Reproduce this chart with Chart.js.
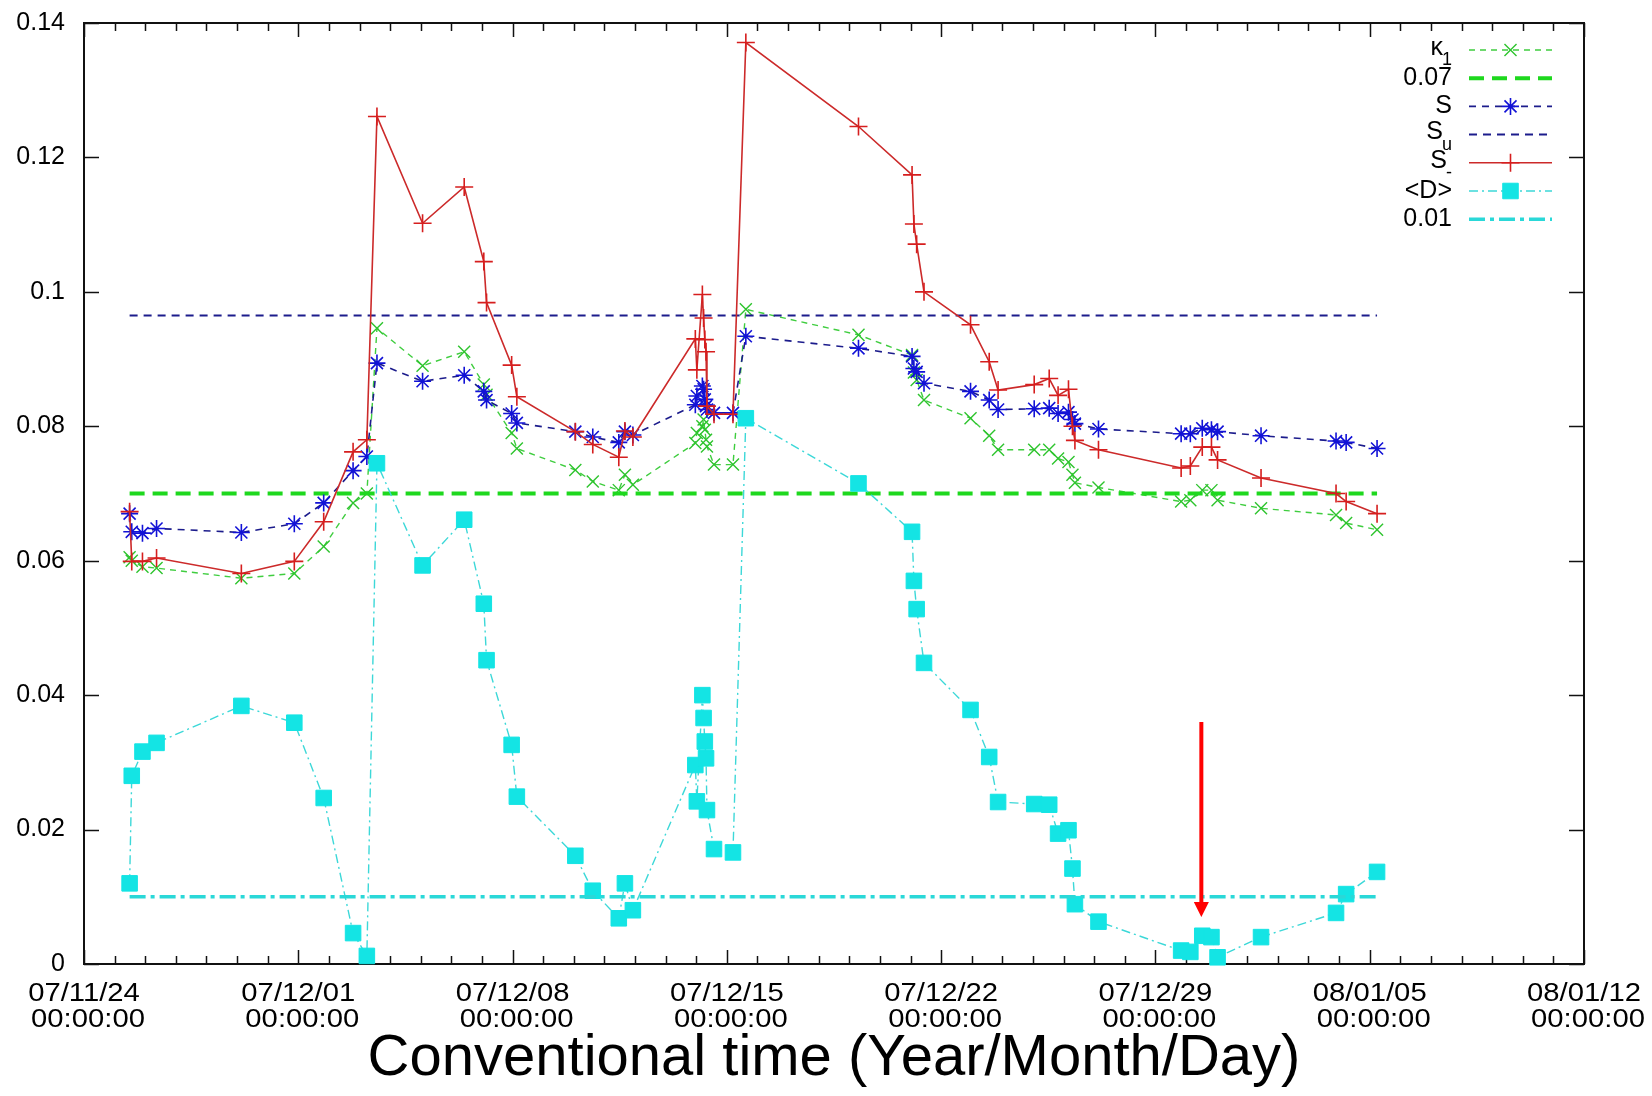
<!DOCTYPE html>
<html>
<head>
<meta charset="utf-8">
<script src="https://cdn.jsdelivr.net/npm/chart.js@4/dist/chart.umd.min.js"></script>
<style>
  html, body { margin: 0; padding: 0; background: #fff; }
  canvas { display: block; }
</style>
</head>
<body>
<canvas id="c" width="1652" height="1096"></canvas>
<script>
// Sample times, in days elapsed since 07/11/24 00:00:00
const sampleDays = [
  1.49, 1.56, 1.91, 2.37, 5.14, 6.87, 7.83, 8.79, 9.24, 9.57,
  11.06, 12.42, 13.06, 13.15, 13.97, 14.14, 16.05, 16.62, 17.47, 17.67,
  17.93, 19.97, 20.02, 20.20, 20.24, 20.28, 20.32, 20.35, 20.58, 21.20,
  21.62, 25.30, 27.05, 27.11, 27.20, 27.44, 28.96, 29.57, 29.86, 31.04,
  31.53, 31.82, 32.16, 32.29, 32.37, 33.14, 35.84, 36.14, 36.53, 36.83,
  37.03, 38.45, 40.90, 41.23, 42.24
];

// κ1
const kappa1 = [
  0.0605, 0.0600, 0.0591, 0.0589, 0.0574, 0.0581, 0.0621, 0.0686, 0.0700, 0.0946,
  0.0890, 0.0911, 0.0862, 0.0847, 0.0790, 0.0767, 0.0735, 0.0718, 0.0705, 0.0728,
  0.0713, 0.0775, 0.0790, 0.0800, 0.0810, 0.0795, 0.0780, 0.0770, 0.0743, 0.0743,
  0.0974, 0.0936, 0.0906, 0.0880, 0.0869, 0.0839, 0.0812, 0.0786, 0.0765, 0.0765,
  0.0765, 0.0752, 0.0747, 0.0728, 0.0716, 0.0709, 0.0688, 0.0690, 0.0705, 0.0705,
  0.0690, 0.0678, 0.0668, 0.0656, 0.0646
];

// S
const sValues = [
  0.0670, 0.0643, 0.0641, 0.0648, 0.0642, 0.0655, 0.0686, 0.0734, 0.0755, 0.0894,
  0.0867, 0.0876, 0.0852, 0.0839, 0.0819, 0.0805, 0.0792, 0.0784, 0.0776, 0.0792,
  0.0787, 0.0832, 0.0845, 0.0860, 0.0855, 0.0840, 0.0830, 0.0825, 0.0820, 0.0820,
  0.0934, 0.0916, 0.0904, 0.0886, 0.0881, 0.0864, 0.0852, 0.0839, 0.0825, 0.0826,
  0.0827, 0.0819, 0.0821, 0.0810, 0.0804, 0.0796, 0.0789, 0.0789, 0.0797, 0.0795,
  0.0792, 0.0786, 0.0778, 0.0776, 0.0767
];

// S-
const sMinus = [
  0.0673, 0.0599, 0.0599, 0.0604, 0.0581, 0.0599, 0.0658, 0.0762, 0.0780, 0.1261,
  0.1102, 0.1156, 0.1045, 0.0984, 0.0891, 0.0844, 0.0792, 0.0773, 0.0754, 0.0793,
  0.0784, 0.0930, 0.0884, 0.0996, 0.0961, 0.0929, 0.0911, 0.0830, 0.0818, 0.0818,
  0.1371, 0.1246, 0.1174, 0.1101, 0.1071, 0.1000, 0.0951, 0.0896, 0.0854, 0.0862,
  0.0871, 0.0846, 0.0855, 0.0800, 0.0779, 0.0765, 0.0738, 0.0741, 0.0769, 0.0769,
  0.0750, 0.0723, 0.0700, 0.0688, 0.0670
];

// <D>
const meanD = [
  0.0120, 0.0280, 0.0316, 0.0329, 0.0384, 0.0359, 0.0247, 0.0046, 0.0012, 0.0745,
  0.0593, 0.0661, 0.0536, 0.0452, 0.0326, 0.0249, 0.0161, 0.0109, 0.0068, 0.0120,
  0.0080, 0.0296, 0.0242, 0.0400, 0.0366, 0.0331, 0.0306, 0.0229, 0.0171, 0.0166,
  0.0812, 0.0715, 0.0643, 0.0570, 0.0528, 0.0448, 0.0378, 0.0308, 0.0241, 0.0238,
  0.0237, 0.0194, 0.0199, 0.0142, 0.0089, 0.0063, 0.0020, 0.0018, 0.0042, 0.0040,
  0.0010, 0.0040, 0.0076, 0.0104, 0.0137
];

// Reference levels
const kappaLevel = 0.07;
const sUpperLevel = 0.0965;
const dLevel = 0.01;

// Axis ranges and tick spacing
const xRange = [0, 49];
const xMajorStep = 7;
const yRange = [0, 0.14];
const yStep = 0.02;
const startDate = [2007, 11, 24];

// Marked sample (arrow)
const arrowDay = 36.5;
const arrowFrom = 0.036;
const arrowTo = 0.007;

// Key entries: main text + subscript
const keyLabels = [
  ['κ', '1'], ['0.07', ''], ['S', ''], ['S', 'u'], ['S', '-'], ['<D>', ''], ['0.01', '']
];

const FONT = '"Liberation Sans", Arial, Helvetica, sans-serif';
Chart.defaults.font.family = FONT;
Chart.defaults.color = '#000';

const series = vals => sampleDays.map((d, i) => ({ x: d, y: vals[i] }));
const level = v => [{ x: sampleDays[0], y: v }, { x: sampleDays[sampleDays.length - 1], y: v }];

const datasets = [
  { data: series(kappa1), borderColor: '#3fcd3f', borderWidth: 1.4, borderDash: [6, 5],
    pointStyle: 'crossRot', pointRadius: 8.5, pointBorderColor: '#2ec42e', pointBorderWidth: 1.4,
    pointBackgroundColor: 'rgba(0,0,0,0)', order: 7 },
  { data: level(kappaLevel), borderColor: '#1ed81e', borderWidth: 4, borderDash: [15, 8],
    pointRadius: 0, order: 6 },
  { data: series(sValues), borderColor: '#1c1c8c', borderWidth: 1.6, borderDash: [7, 6],
    pointStyle: 'star', pointRadius: 8.5, pointBorderColor: '#1212d6', pointBorderWidth: 1.6,
    pointBackgroundColor: 'rgba(0,0,0,0)', order: 5 },
  { data: level(sUpperLevel), borderColor: '#1c1c8c', borderWidth: 2, borderDash: [8, 6],
    pointRadius: 0, order: 4 },
  { data: series(sMinus), borderColor: '#cc2a2a', borderWidth: 1.6, borderDash: [],
    pointStyle: 'cross', pointRadius: 9, pointBorderColor: '#d61e1e', pointBorderWidth: 1.6,
    pointBackgroundColor: 'rgba(0,0,0,0)', order: 3 },
  { data: series(meanD), borderColor: '#3cd8d8', borderWidth: 1.4, borderDash: [9, 4, 2, 4],
    pointStyle: 'rect', pointRadius: 11, pointBorderColor: '#14e4e4', pointBorderWidth: 1,
    pointBackgroundColor: '#14e4e4', order: 2, clip: false },
  { data: level(dLevel), borderColor: '#2ad8d8', borderWidth: 3.5, borderDash: [16, 5, 4, 5],
    pointRadius: 0, order: 1 }
].map(ds => Object.assign({ showLine: true, tension: 0, fill: false }, ds));

const fmt2 = n => String(n).padStart(2, '0');
function dateLabel(v) {
  const t = Date.UTC(startDate[0], startDate[1] - 1, startDate[2]) + v * 86400000;
  const d = new Date(t);
  return [fmt2(d.getUTCFullYear() % 100) + '/' + fmt2(d.getUTCMonth() + 1) + '/' + fmt2(d.getUTCDate()), '00:00:00'];
}

// White page background
const background = {
  id: 'background',
  beforeDraw(chart) {
    const { ctx, width, height } = chart;
    ctx.save();
    ctx.fillStyle = '#fff';
    ctx.fillRect(0, 0, width, height);
    ctx.restore();
  }
};

// Plot border with inward, mirrored tick marks
const frame = {
  id: 'frame',
  beforeDatasetsDraw(chart) {
    const { ctx, chartArea: a, scales: { x, y } } = chart;
    ctx.save();
    ctx.strokeStyle = '#111';
    ctx.lineWidth = 1.5;
    ctx.beginPath();
    y.ticks.forEach(t => {
      const py = Math.round(y.getPixelForValue(t.value)) + 0.5;
      ctx.moveTo(a.left, py); ctx.lineTo(a.left + 15, py);
      ctx.moveTo(a.right, py); ctx.lineTo(a.right - 15, py);
    });
    for (let d = xRange[0]; d <= xRange[1]; d++) {
      const px = Math.round(x.getPixelForValue(d)) + 0.5;
      const len = d % xMajorStep === 0 ? 14 : 8;
      ctx.moveTo(px, a.bottom); ctx.lineTo(px, a.bottom - len);
      ctx.moveTo(px, a.top); ctx.lineTo(px, a.top + len);
    }
    ctx.stroke();
    ctx.lineWidth = 2;
    ctx.strokeRect(a.left, a.top, a.right - a.left, a.bottom - a.top);
    ctx.restore();
  }
};

// Two-line date labels under each weekly tick, slightly widened
const dateTicks = {
  id: 'dateTicks',
  afterDraw(chart) {
    const { ctx, chartArea: a, scales: { x } } = chart;
    ctx.save();
    ctx.fillStyle = '#000';
    ctx.font = '25px ' + FONT;
    ctx.textAlign = 'center';
    ctx.textBaseline = 'alphabetic';
    x.ticks.forEach(t => {
      const px = x.getPixelForValue(t.value);
      dateLabel(t.value).forEach((s, k) => {
        ctx.save();
        ctx.translate(px + k * 4, a.bottom + 36.5 + k * 26.5);
        ctx.scale(1.17, 1);
        ctx.fillText(s, 0, 0);
        ctx.restore();
      });
    });
    ctx.restore();
  }
};

// Downward arrow marking one sample
const marker = {
  id: 'marker',
  afterDatasetsDraw(chart) {
    const { ctx, scales: { x, y } } = chart;
    const px = x.getPixelForValue(arrowDay);
    const y0 = y.getPixelForValue(arrowFrom);
    const y1 = y.getPixelForValue(arrowTo);
    ctx.save();
    ctx.strokeStyle = '#ff0000';
    ctx.fillStyle = '#ff0000';
    ctx.lineWidth = 4;
    ctx.beginPath();
    ctx.moveTo(px, y0); ctx.lineTo(px, y1 - 13);
    ctx.stroke();
    ctx.beginPath();
    ctx.moveTo(px - 7.5, y1 - 15);
    ctx.lineTo(px + 7.5, y1 - 15);
    ctx.lineTo(px, y1);
    ctx.closePath();
    ctx.fill();
    ctx.restore();
  }
};

// Key in the upper right corner of the plot
const key = {
  id: 'key',
  afterDraw(chart) {
    const { ctx, chartArea: a } = chart;
    const textRight = a.right - 132;
    const lineL = a.right - 115, lineR = a.right - 32;
    const top = a.top + 27, step = 28.2;
    ctx.save();
    keyLabels.forEach((lab, i) => {
      const ds = chart.data.datasets[i];
      const cy = top + i * step;
      ctx.setLineDash(ds.borderDash || []);
      ctx.strokeStyle = ds.borderColor;
      ctx.lineWidth = ds.borderWidth;
      ctx.beginPath();
      ctx.moveTo(lineL, cy); ctx.lineTo(lineR, cy);
      ctx.stroke();
      ctx.setLineDash([]);
      if (ds.pointRadius > 0) {
        ctx.strokeStyle = ds.pointBorderColor;
        ctx.fillStyle = ds.pointBackgroundColor;
        ctx.lineWidth = ds.pointBorderWidth;
        Chart.helpers.drawPoint(ctx, {
          pointStyle: ds.pointStyle, radius: ds.pointRadius, rotation: 0, borderWidth: ds.pointBorderWidth
        }, (lineL + lineR) / 2, cy);
      }
      ctx.fillStyle = '#000';
      ctx.textAlign = 'right';
      ctx.textBaseline = 'middle';
      let right = textRight;
      if (lab[1]) {
        ctx.font = '18px ' + FONT;
        ctx.fillText(lab[1], right, cy + 10);
        right -= ctx.measureText(lab[1]).width - 1;
        ctx.font = '25px ' + FONT;
        ctx.fillText(lab[0], right, cy - 2);
      } else {
        ctx.font = '25px ' + FONT;
        ctx.fillText(lab[0], right, cy);
      }
    });
    ctx.restore();
  }
};

new Chart(document.getElementById('c'), {
  type: 'scatter',
  data: { datasets },
  plugins: [background, frame, marker, dateTicks, key],
  options: {
    responsive: false,
    devicePixelRatio: 1,
    animation: false,
    events: [],
    layout: { padding: { left: 0, right: 68, top: 23, bottom: 0 } },
    plugins: { legend: { display: false }, tooltip: { enabled: false } },
    scales: {
      x: {
        type: 'linear', min: xRange[0], max: xRange[1],
        grid: { display: false, drawTicks: false },
        border: { display: false },
        ticks: { stepSize: xMajorStep, autoSkip: false, display: false },
        title: {
          display: true, text: 'Conventional time (Year/Month/Day)',
          font: { size: 58 }, color: '#000', padding: { top: 0, bottom: 2 }
        },
        afterFit(s) {
          s.height = 132;
          s.paddingLeft = 0; s.paddingRight = 0;
        }
      },
      y: {
        type: 'linear', min: yRange[0], max: yRange[1],
        grid: { display: false, drawTicks: false },
        border: { display: false },
        ticks: {
          stepSize: yStep, padding: 19, font: { size: 25 }, color: '#000',
          callback: v => String(+v.toFixed(2))
        },
        afterFit(s) {
          s.width = 84;
          s.paddingTop = 0; s.paddingBottom = 0;
        }
      }
    }
  }
});
</script>
</body>
</html>
